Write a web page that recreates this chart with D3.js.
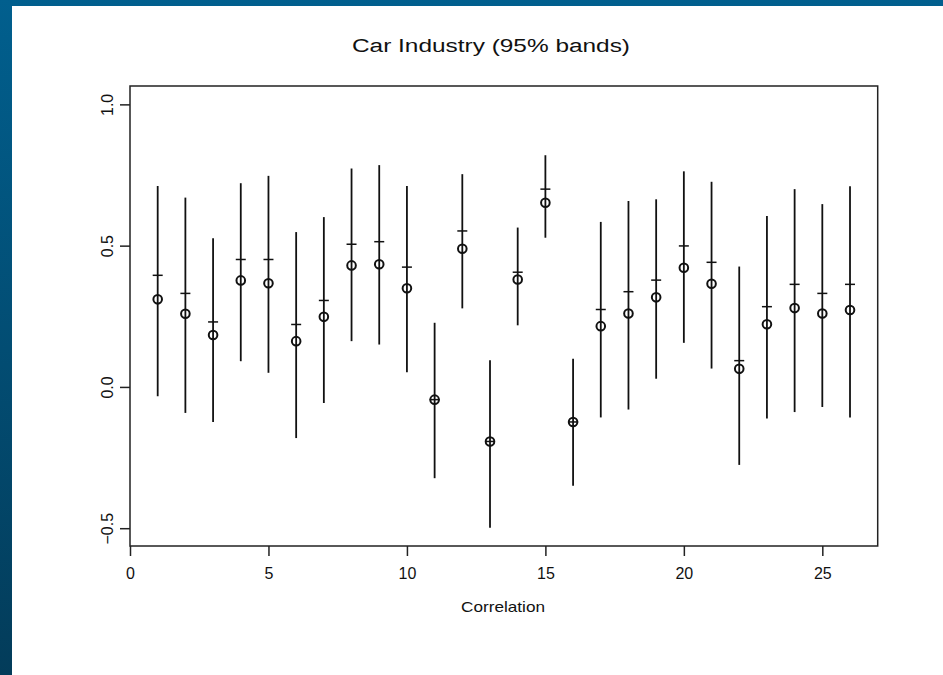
<!DOCTYPE html>
<html>
<head>
<meta charset="utf-8">
<script src="https://cdn.jsdelivr.net/npm/d3@7"></script>
<style>
  html, body { margin: 0; padding: 0; background: #ffffff; }
  svg { display: block; }
  text { font-family: "Liberation Sans", Arial, Helvetica, sans-serif; fill: #111; }
</style>
</head>
<body>
<svg id="chart" width="943" height="675"></svg>
<script>
// ---- data ----
const index    = [1,2,3,4,5,6,7,8,9,10,11,12,13,14,15,16,17,18,19,20,21,22,23,24,25,26];
const estimate = [0.310,0.259,0.184,0.377,0.367,0.162,0.248,0.430,0.434,0.349,-0.045,0.489,-0.193,0.380,0.652,-0.124,0.215,0.260,0.317,0.422,0.365,0.064,0.222,0.279,0.260,0.272];
const center   = [0.395,0.331,0.230,0.451,0.451,0.221,0.306,0.505,0.514,0.424,-0.045,0.552,-0.193,0.406,0.700,-0.124,0.274,0.337,0.378,0.499,0.441,0.093,0.284,0.363,0.331,0.363];
const lower    = [-0.033,-0.092,-0.124,0.091,0.050,-0.181,-0.057,0.162,0.150,0.052,-0.323,0.278,-0.498,0.218,0.528,-0.350,-0.108,-0.080,0.029,0.156,0.065,-0.276,-0.112,-0.089,-0.071,-0.108];
const upper    = [0.711,0.670,0.526,0.721,0.747,0.548,0.601,0.773,0.785,0.711,0.227,0.753,0.094,0.564,0.820,0.100,0.584,0.658,0.664,0.763,0.726,0.426,0.605,0.700,0.647,0.710];
const xTicks   = [0,5,10,15,20,25];
const yTicks   = [-0.5,0.0,0.5,1.0];
const titleText = "Car Industry (95% bands)";
const xLabel    = "Correlation";

const svg = d3.select("#chart");
const W = 943, H = 675;

// background frame (blue gradient border on left and top)
const defs = svg.append("defs");
const grad = defs.append("linearGradient").attr("id","bg").attr("x1",0).attr("y1",0).attr("x2",0).attr("y2",1);
grad.append("stop").attr("offset","0%").attr("stop-color","#015f8e");
grad.append("stop").attr("offset","100%").attr("stop-color","#033c5a");
svg.append("rect").attr("x",0).attr("y",0).attr("width",W).attr("height",H).attr("fill","url(#bg)");
svg.append("rect").attr("x",12).attr("y",6).attr("width",W-12).attr("height",H-6).attr("fill","#ffffff");

const plot = {left:130, right:877.7, top:86, bottom:546};
const x = d3.scaleLinear().domain([0,27]).range([plot.left, plot.right]);
const y = d3.scaleLinear().domain([-0.563,1.065]).range([plot.bottom, plot.top]);

// box
svg.append("rect")
  .attr("x",plot.left).attr("y",plot.top)
  .attr("width",plot.right-plot.left).attr("height",plot.bottom-plot.top)
  .attr("fill","none").attr("stroke","#222").attr("stroke-width",1.5);

// x axis
const xAxis = svg.append("g").attr("transform",`translate(0,${plot.bottom})`)
  .call(d3.axisBottom(x).tickValues(xTicks).tickSize(10).tickPadding(12).tickFormat(d3.format("d")));
xAxis.select(".domain").remove();
xAxis.selectAll(".tick line").attr("stroke","#222").attr("stroke-width",1.5);
xAxis.selectAll(".tick text").style("font-size","16px").attr("fill","#111")
  .attr("font-family","Liberation Sans, Arial, sans-serif");

// y axis
const yAxis = svg.append("g").attr("transform",`translate(${plot.left},0)`)
  .call(d3.axisLeft(y).tickValues(yTicks).tickSize(10).tickFormat(d3.format(".1f")));
yAxis.select(".domain").remove();
yAxis.selectAll(".tick line").attr("stroke","#222").attr("stroke-width",1.5);
yAxis.selectAll(".tick text")
  .attr("x",0).attr("dy",0)
  .attr("transform","translate(-17,0) rotate(-90)")
  .attr("text-anchor","middle")
  .style("font-size","16px").attr("fill","#111")
  .attr("font-family","Liberation Sans, Arial, sans-serif");

// title & axis label
svg.append("text").attr("x",491).attr("y",52).attr("text-anchor","middle")
  .attr("textLength",278).attr("lengthAdjust","spacingAndGlyphs")
  .style("font-size","18px").text(titleText);
svg.append("text").attr("x",503).attr("y",612).attr("text-anchor","middle")
  .attr("textLength",84).attr("lengthAdjust","spacingAndGlyphs")
  .style("font-size","15px").text(xLabel);

// data marks
const rows = index.map((d,i) => ({i:d, est:estimate[i], c:center[i], lo:lower[i], hi:upper[i]}));
const g = svg.append("g");
g.selectAll("line.band").data(rows).join("line").attr("class","band")
  .attr("x1",d=>x(d.i)).attr("x2",d=>x(d.i))
  .attr("y1",d=>y(d.lo)).attr("y2",d=>y(d.hi))
  .attr("stroke","#111").attr("stroke-width",1.8);
g.selectAll("line.mid").data(rows).join("line").attr("class","mid")
  .attr("x1",d=>x(d.i)-5).attr("x2",d=>x(d.i)+5)
  .attr("y1",d=>y(d.c)).attr("y2",d=>y(d.c))
  .attr("stroke","#111").attr("stroke-width",1.5);
g.selectAll("circle.pt").data(rows).join("circle").attr("class","pt")
  .attr("cx",d=>x(d.i)).attr("cy",d=>y(d.est)).attr("r",4.3)
  .attr("fill","none").attr("stroke","#111").attr("stroke-width",2);
</script>
</body>
</html>
